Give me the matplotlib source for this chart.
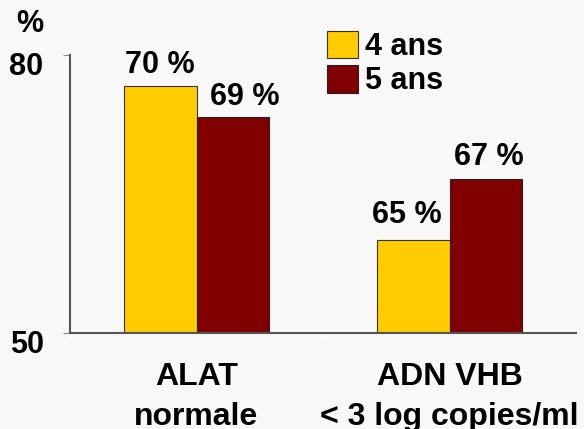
import matplotlib.pyplot as plt
import matplotlib.transforms as mtransforms
import numpy as np

# data
groups = ['ALAT\nnormale', 'ADN VHB\n< 3 log copies/ml']
series = ['4 ans', '5 ans']
vals_4 = [70, 65]
vals_5 = [69, 67]
ytick_labels = ['50', '80']

plt.rcParams['font.family'] = ['Liberation Sans', 'DejaVu Sans']
plt.rcParams['font.weight'] = 'bold'

bg = '#f8f8f8'
fig = plt.figure(figsize=(5.84, 4.29), dpi=100, facecolor=bg)
ax = fig.add_axes([70 / 584, 96 / 429, 506 / 584, 278 / 429], facecolor=bg)

x = np.arange(len(groups))
w = 0.2885
b1 = ax.bar(x - w / 2, vals_4, w, bottom=0, color='#ffcc00', edgecolor='#333333', linewidth=0.8, label=series[0])
b2 = ax.bar(x + w / 2, vals_5, w, bottom=0, color='#800000', edgecolor='#222222', linewidth=0.8, label=series[1])

ax.set_ylim(62, 71.0)
ax.set_xlim(-0.5, 1.5)

# value labels (offsets in pixels, as placed on the original slide)
offsets = [[(0, 13), (-6, 17)], [(12, 12), (2.5, 14)]]
for s, (bars, vals) in enumerate([(b1, vals_4), (b2, vals_5)]):
    for i, (bar, v) in enumerate(zip(bars, vals)):
        ax.annotate(f'{v} %', (bar.get_x() + bar.get_width() / 2, v),
                    xytext=offsets[s][i], textcoords='offset pixels',
                    ha='center', va='baseline', fontsize=22, fontweight='bold')

ax.set_xticks(x)
ax.set_xticklabels(groups, fontsize=23, fontweight='bold', linespacing=1.43)
ax.tick_params(axis='x', length=0, pad=21)
ax.set_xticks([-0.5, 0.5, 1.5], minor=True)
ax.tick_params(axis='x', which='minor', length=4, color='white', width=1)

ax.set_yticks([62, 71.0])
ax.set_yticklabels(ytick_labels, fontsize=22, fontweight='bold')
ax.tick_params(axis='y', length=5, color='#888888', pad=14)
shift = mtransforms.ScaledTranslation(0, -8 / 100, fig.dpi_scale_trans)
for lab in ax.get_yticklabels():
    lab.set_transform(lab.get_transform() + shift)

for spine in ('top', 'right'):
    ax.spines[spine].set_visible(False)
for spine in ('left', 'bottom'):
    ax.spines[spine].set_color('#555555')
    ax.spines[spine].set_linewidth(1.5)

fig.text(30 / 584, 1 - 24 / 429, '%', fontsize=22, fontweight='bold', ha='center', va='center')

leg = ax.legend(loc='upper left', bbox_to_anchor=(321 / 584, 1 - 25 / 429), bbox_transform=fig.transFigure,
                frameon=False, fontsize=22, handlelength=1.0, handleheight=1.0,
                handletextpad=0.25, labelspacing=0.1, borderpad=0.2, borderaxespad=0)

fig.savefig('out.png', dpi=100, facecolor=bg)
